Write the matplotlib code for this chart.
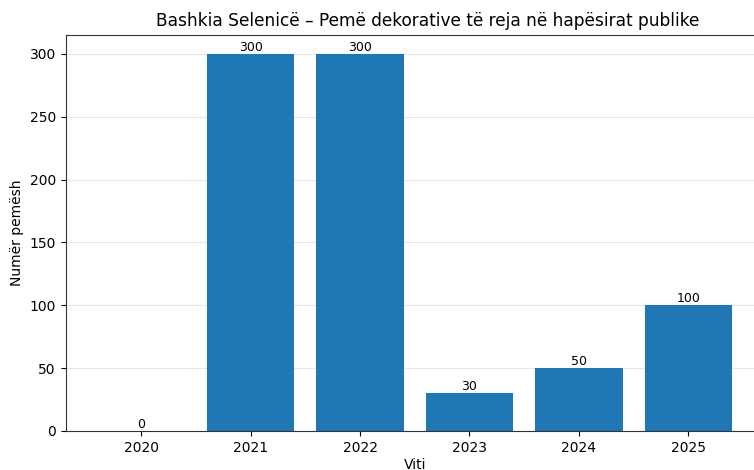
import matplotlib
matplotlib.use("Agg")
import matplotlib.pyplot as plt

years = ["2020", "2021", "2022", "2023", "2024", "2025"]
values = [0, 300, 300, 30, 50, 100]

fig = plt.figure(figsize=(7.54, 4.70), dpi=100)
ax = fig.add_axes([65.5/754, 39/470, (764-65.5)/754, (431-35)/470])
bars = ax.bar(years, values, color="#1f77b4", width=0.8, zorder=2)
ax.bar_label(bars, labels=[str(v) for v in values], fontsize=9, padding=0)
ax.grid(axis="y", color="#e6e6e6", linewidth=0.8, zorder=0)
ax.set_axisbelow(True)
ax.set_xlabel("Viti", labelpad=2.5)
ax.set_ylabel("Numër pemësh")
ax.set_ylim(0, 315)
for s in ax.spines.values():
    s.set_color("#333333")
fig.text(427.5/754, 1 - 21/470, "Bashkia Selenicë – Pemë dekorative të reja në hapësirat publike",
         ha="center", va="center", fontsize=12.25)
fig.savefig("out.png", dpi=100)
